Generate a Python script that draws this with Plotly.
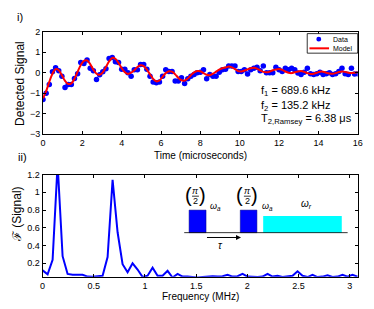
import plotly.graph_objects as go

W, H = 374, 309
OFF = 8  # page body margin offset of the plot div
def px(x): return (x - OFF) / W
def py(y): return 1 - (y - OFF) / H

# ---------------- data ----------------
time_us = [round(i * 0.16, 2) for i in range(101)]
signal_data = [
    -1.3, -1.0, -0.58, 0.05, 0.24, 0.1, -0.17, -0.72, -0.57, -0.57,
    -0.28, -0.05, 0.5, 0.45, 0.62, 0.22, 0.1, -0.33, -0.1, 0.05,
    0.19, 0.69, 0.74, 0.53, 0.5, 0.17, 0.17, 0.0, -0.17, 0.14,
    0.14, 0.4, 0.4, 0.17, -0.17, -0.45, -0.49, -0.45, -0.17, 0.14,
    0.06, 0.06, -0.4, -0.4, -0.25, -0.52, -0.3, -0.17, -0.09, 0.0,
    0.02, 0.14, -0.3, -0.09, -0.17, -0.17, 0.02, 0.14, 0.17, 0.33,
    0.33, 0.33, 0.06, 0.06, 0.14, -0.06, 0.14, 0.22, 0.27, 0.1,
    0.33, 0.0, 0.0, 0.0, 0.27, 0.14, 0.06, 0.22, 0.14, 0.22,
    0.14, -0.02, -0.09, 0.02, 0.22, -0.05, -0.09, -0.05, 0.02, -0.09,
    -0.05, 0.0, -0.09, -0.05, 0.06, 0.22, -0.05, -0.09, 0.22, -0.06,
    -0.05,
]
signal_model = [
    -1.25, -0.9, -0.45, -0.05, 0.17, 0.12, -0.12, -0.4, -0.55, -0.52,
    -0.3, 0.05, 0.38, 0.58, 0.6, 0.42, 0.15, -0.05, -0.1, 0.02,
    0.28, 0.55, 0.72, 0.68, 0.48, 0.22, 0.02, -0.06, 0.0, 0.12,
    0.28, 0.36, 0.32, 0.15, -0.08, -0.3, -0.42, -0.38, -0.2, -0.02,
    0.07, 0.05, -0.08, -0.25, -0.37, -0.38, -0.28, -0.12, 0.02, 0.08,
    0.07, -0.02, -0.1, -0.12, -0.05, 0.05, 0.15, 0.22, 0.25, 0.3,
    0.26, 0.18, 0.08, 0.06, 0.1, 0.16, 0.22, 0.24, 0.2, 0.12,
    0.04, 0.02, 0.05, 0.12, 0.16, 0.18, 0.14, 0.06, 0.0, -0.02,
    0.02, 0.06, 0.08, 0.04, -0.02, -0.06, -0.05, 0.0, 0.05, 0.05,
    0.0, -0.04, -0.05, -0.02, 0.03, 0.06, 0.04, 0.0, -0.02, 0.0,
    0.02,
]
freq_mhz = [round(k * 0.048828, 4) for k in range(64)]
fft_mag = [
    0.12, 0.075, 0.24, 1.32, 0.28, 0.08, 0.07, 0.07, 0.07, 0.05,
    0.048, 0.055, 0.06, 0.27, 1.14, 0.55, 0.19, 0.1, 0.2, 0.13,
    0.045, 0.06, 0.15, 0.06, 0.06, 0.115, 0.04, 0.08, 0.05, 0.05,
    0.045, 0.04, 0.045, 0.05, 0.055, 0.05, 0.055, 0.07, 0.05, 0.055,
    0.08, 0.05, 0.045, 0.045, 0.05, 0.08, 0.05, 0.06, 0.045, 0.05,
    0.06, 0.11, 0.06, 0.045, 0.07, 0.045, 0.05, 0.065, 0.045, 0.05,
    0.07, 0.05, 0.07, 0.05,
]
top_xticks = [0, 2, 4, 6, 8, 10, 12, 14, 16]
top_yticks = [-3, -2, -1, 0, 1, 2]
bot_xticks = [0, 0.5, 1, 1.5, 2, 2.5, 3]
bot_yticks = [0.2, 0.4, 0.6, 0.8, 1, 1.2]
bot_yticklabels = ["0.2", "0.4", "0.6", "0.8", "1", "1.2"]
legend_names = ["Data", "Model"]

FONT = "Liberation Sans, Arial, sans-serif"
BLUE = "#0000ff"
RED = "#ff0000"

fig = go.Figure()
fig.add_trace(go.Scatter(x=time_us, y=signal_data, mode="markers", name=legend_names[0],
                         marker=dict(color=BLUE, size=5.5, line=dict(width=0)),
                         xaxis="x", yaxis="y", showlegend=False))
fig.add_trace(go.Scatter(x=time_us, y=signal_model, mode="lines", name=legend_names[1],
                         line=dict(color=RED, width=2, shape="spline", smoothing=0.8),
                         xaxis="x", yaxis="y", showlegend=False))
fig.add_trace(go.Scatter(x=freq_mhz, y=fft_mag, mode="lines", showlegend=False,
                         line=dict(color=BLUE, width=2),
                         xaxis="x2", yaxis="y2"))

ax_common = dict(showline=True, linecolor="black", linewidth=1, mirror="ticks",
                 ticks="inside", ticklen=3, tickcolor="black", showgrid=False,
                 zeroline=False, tickfont=dict(family=FONT, size=9, color="black"))

fig.update_layout(
    width=W, height=H, margin=dict(l=0, r=0, t=0, b=0),
    paper_bgcolor="white", plot_bgcolor="white",
    font=dict(family=FONT, color="black"),
    showlegend=False,
    xaxis=dict(domain=[px(40.7), px(362.3)], range=[0, 16], tickvals=top_xticks,
               anchor="y", **ax_common),
    yaxis=dict(domain=[py(133.3), py(27.3)], range=[-3, 2], tickvals=top_yticks,
               anchor="x", **ax_common),
    xaxis2=dict(domain=[px(40.3), px(362.7)], range=[0, 3.082], tickvals=bot_xticks,
                anchor="y2", **ax_common),
    yaxis2=dict(domain=[py(280.7), py(175)], range=[0.047, 1.2], tickvals=bot_yticks,
                ticktext=bot_yticklabels, anchor="x2", **ax_common),
)

ann = []
def text(x, y, t, size=10, xanchor="center", angle=0, italic=False):
    ann.append(dict(x=px(x), y=py(y), xref="paper", yref="paper", text=t,
                    showarrow=False, xanchor=xanchor, yanchor="middle", textangle=angle,
                    font=dict(family=FONT, size=size, color="black",
                              style="italic" if italic else "normal")))

text(17, 12, "i)", 11)
text(20, 157, "ii)", 11)
text(201.5, 155.5, "Time (microseconds)", 10)
text(201.5, 301, "Frequency (MHz)", 10)
text(17, 80.5, "Detected Signal", 12, angle=-90)
text(14, 216, "ℱ (Signal)", 12, angle=-90)
text(261.5, 89, "f<sub>1</sub> = 689.6 kHz", 11, xanchor="left")
text(261.5, 104, "f<sub>2</sub> = 135.2 kHz", 11, xanchor="left")
text(261.5, 118, "T<sub>2,Ramsey</sub> = 6.38 μs", 11, xanchor="left")

shapes = []
# manual legend (compact, MATLAB style)
shapes += [
    dict(type="rect", xref="paper", yref="paper", x0=px(310.7), x1=px(362.3),
         y0=py(49.5), y1=py(29.3), fillcolor="white", line=dict(color="black", width=0.8)),
    dict(type="circle", xref="paper", yref="paper", x0=px(320), x1=px(325),
         y0=py(37.5), y1=py(32.5), fillcolor=BLUE, line=dict(width=0)),
    dict(type="line", xref="paper", yref="paper", x0=px(313), x1=px(333),
         y0=py(44.5), y1=py(44.5), line=dict(color=RED, width=2)),
]
text(335.5, 35, legend_names[0], 7, xanchor="left")
text(335.5, 44.5, legend_names[1], 7, xanchor="left")

# pulse-sequence inset
for cx, sub_x in [(196.5, 217), (249.5, 270)]:
    text(cx - 7.5, 196.5, "(", 20)
    text(cx + 7.5, 196.5, ")", 20)
    text(cx, 192, "π", 9, italic=True)
    text(cx, 202.5, "2", 9)
    shapes.append(dict(type="line", xref="paper", yref="paper",
                       x0=px(cx - 3.5), x1=px(cx + 3.5), y0=py(197.3), y1=py(197.3),
                       line=dict(color="black", width=0.8)))
    text(sub_x, 208, "ω<sub>a</sub>", 9, italic=True)
text(310, 205, "ω<sub>r</sub>", 10, italic=True)
text(221.7, 248.5, "τ", 10, italic=True)

shapes += [
    dict(type="rect", xref="paper", yref="paper", x0=px(190), x1=px(207.3),
         y0=py(235), y1=py(211.7), fillcolor=BLUE, line=dict(width=0.5, color="#000080")),
    dict(type="rect", xref="paper", yref="paper", x0=px(242.3), x1=px(259.3),
         y0=py(235), y1=py(211.7), fillcolor=BLUE, line=dict(width=0.5, color="#000080")),
    dict(type="rect", xref="paper", yref="paper", x0=px(265.7), x1=px(346),
         y0=py(235), y1=py(217.7), fillcolor="#00ffff", line=dict(width=0)),
    dict(type="line", xref="paper", yref="paper", x0=px(185), x1=px(352),
         y0=py(235), y1=py(235), line=dict(color="black", width=0.8)),
]
ann.append(dict(x=px(243), y=py(240), ax=-35.5, ay=0, xref="paper", yref="paper",
                axref="pixel", ayref="pixel", text="", showarrow=True, arrowhead=2,
                arrowsize=1, arrowwidth=1, arrowcolor="black"))

fig.update_layout(annotations=ann, shapes=shapes)
fig.write_html("out.html")
